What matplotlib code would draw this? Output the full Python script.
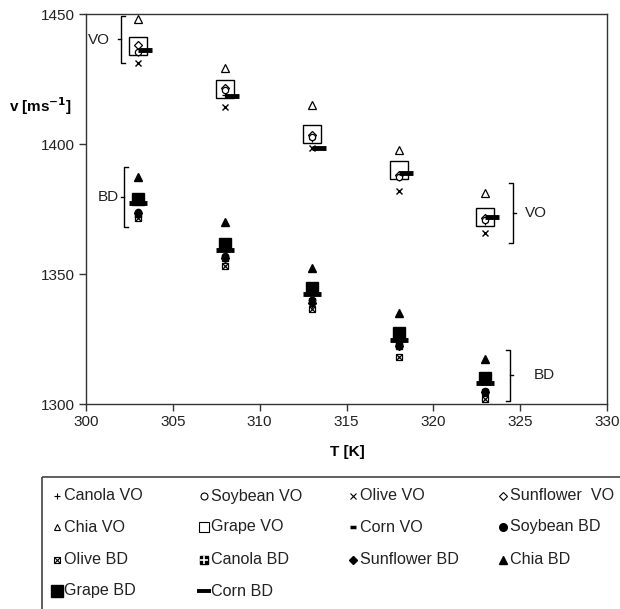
import matplotlib
matplotlib.use("Agg")
import matplotlib.pyplot as plt
from matplotlib.patches import Rectangle

plt.rcParams['font.family'] = ['Liberation Sans', 'DejaVu Sans']

# ------------------------------------------------------------------
# donnees
# ------------------------------------------------------------------
T = [303, 308, 313, 318, 323]
T_corn_vo = [303.4, 308.4, 313.4, 318.4, 323.4]

canola_vo    = [1435.0, 1419.0, 1402.0, 1387.0, 1370.0]
soybean_vo   = [1435.5, 1420.8, 1402.7, 1387.3, 1370.8]
olive_vo     = [1431.0, 1414.2, 1398.5, 1382.0, 1365.8]
sunflower_vo = [1438.0, 1421.5, 1403.5, 1388.0, 1371.5]
chia_vo      = [1448.0, 1429.2, 1415.0, 1397.7, 1381.2]
grape_vo     = [1437.7, 1421.0, 1403.8, 1390.0, 1372.0]
corn_vo      = [1436.0, 1418.5, 1398.6, 1388.8, 1372.0]

soybean_bd   = [1374.0, 1357.0, 1340.0, 1323.0, 1305.0]
olive_bd     = [1371.5, 1353.0, 1336.5, 1318.0, 1301.9]
canola_bd    = [1373.0, 1356.0, 1339.5, 1322.5, 1304.5]
sunflower_bd = [1373.5, 1356.0, 1339.0, 1322.3, 1304.6]
chia_bd      = [1387.3, 1370.0, 1352.3, 1335.0, 1317.3]
grape_bd     = [1379.0, 1361.5, 1344.6, 1327.3, 1309.9]
corn_bd      = [1377.3, 1359.2, 1342.3, 1324.6, 1308.0]

x_ticks = [300, 305, 310, 315, 320, 325, 330]
y_ticks = [1300, 1350, 1400, 1450]

# accolades : (x, y_bas, y_haut, cote, texte, x_texte, y_texte)
brackets = [
    (302.0, 1431.2, 1449.3, "left",  "VO", 300.75, 1440.0),
    (302.2, 1368.1, 1391.2, "left",  "BD", 301.3, 1379.6),
    (324.6, 1361.9, 1385.0, "right", "VO", 325.9, 1373.5),
    (324.4, 1301.2, 1320.8, "right", "BD", 326.4, 1311.0),
]

legend_labels = ["Canola VO", "Soybean VO", "Olive VO", "Sunflower  VO",
                 "Chia VO", "Grape VO", "Corn VO", "Soybean BD",
                 "Olive BD", "Canola BD", "Sunflower BD", "Chia BD",
                 "Grape BD", "Corn BD"]

# ------------------------------------------------------------------
# figure
# ------------------------------------------------------------------
fig = plt.figure(figsize=(6.2, 6.09), dpi=100)
ax = fig.add_axes([86/620, 1 - 404/609, 521/620, 390/609])

k = dict(linestyle="none", color="black")
ax.plot(T, grape_vo, marker="s", ms=12.5, mfc="none", mew=1.0, **k)
ax.plot(T, chia_vo, marker="^", ms=5.5, mfc="white", mew=0.9, **k)
ax.plot(T, olive_vo, marker="x", ms=5, mew=1.0, **k)
ax.plot(T, canola_vo, marker="+", ms=5, mew=0.9, **k)
ax.plot(T, sunflower_vo, marker="D", ms=4, mfc="white", mew=0.9, **k)
ax.plot(T, soybean_vo, marker="o", ms=4.5, mfc="white", mew=0.9, **k)
ax.plot(T_corn_vo, corn_vo, marker="_", ms=10, mew=3.5, **k)

ax.plot(T, chia_bd, marker="^", ms=6, **k)
ax.plot(T, olive_bd, marker="s", ms=4.5, mfc="white", mew=0.9, **k)
ax.plot(T, olive_bd, marker="x", ms=4, mew=0.9, **k)
ax.plot(T, canola_bd, marker="s", ms=4.5, **k)
ax.plot(T, soybean_bd, marker="o", ms=4.5, **k)
ax.plot(T, sunflower_bd, marker="D", ms=4.2, **k)
ax.plot(T, grape_bd, marker="s", ms=8.5, **k)
ax.plot(T, corn_bd, marker="_", ms=13, mew=3.5, **k)

for xb, y0, y1, side, txt, xt, yt in brackets:
    d = 0.22 if side == "left" else -0.22
    ax.plot([xb + d, xb, xb, xb + d], [y0, y0, y1, y1], color="black", lw=1.0)
    ym = (y0 + y1) / 2
    ax.plot([xb, xb - d * 0.8], [ym, ym], color="black", lw=1.0)
    ax.text(xt, yt, txt, ha="center", va="center", fontsize=11, color="#222222")

ax.set_xlim(300, 330)
ax.set_ylim(1300, 1450)
ax.set_xticks(x_ticks)
ax.set_yticks(y_ticks)
ax.tick_params(direction="out", length=5, width=1.0, labelsize=11,
               labelcolor="#222222", color="#333333", pad=3)
for s in ax.spines.values():
    s.set_color("#333333")
    s.set_linewidth(1.0)

fig.text(347/620, 1 - 452/609, "T [K]", ha="center", va="center",
         fontsize=11, fontweight="bold")
fig.text(41/620, 1 - 106/609, "v [ms$^{\\mathbf{-1}}$]", ha="center", va="center",
         fontsize=11, fontweight="bold")

# ------------------------------------------------------------------
# legende dessinee a la main
# ------------------------------------------------------------------
lax = fig.add_axes([0, 0, 1, 1])
lax.set_xlim(0, 620)
lax.set_ylim(609, 0)
lax.axis("off")
lax.add_patch(Rectangle((42, 477), 640, 200, fill=False, ec="#444444", lw=1.2))

col_x = [57, 204, 353, 503]
row_y = [496, 527, 560, 591]
styles = [
    [dict(marker="+", ms=5, mew=0.8)],
    [dict(marker="o", ms=5, mfc="white", mew=0.8)],
    [dict(marker="x", ms=5, mew=0.8)],
    [dict(marker="D", ms=4, mfc="white", mew=0.8)],
    [dict(marker="^", ms=5, mfc="white", mew=0.8)],
    [dict(marker="s", ms=7, mfc="white", mew=0.8)],
    [dict(marker="_", ms=5, mew=2.5)],
    [dict(marker="o", ms=5.5)],
    [dict(marker="s", ms=5, mfc="white", mew=0.8), dict(marker="x", ms=4, mew=0.8)],
    [dict(marker="s", ms=6), dict(marker="+", ms=6, mew=1.2, color="white")],
    [dict(marker="D", ms=4.5)],
    [dict(marker="^", ms=6)],
    [dict(marker="s", ms=8)],
    [dict(marker="_", ms=10, mew=2.8)],
]
for i, lab in enumerate(legend_labels):
    cx = col_x[i % 4]
    cy = row_y[i // 4]
    for st in styles[i]:
        st = dict(st)
        c = st.pop("color", "black")
        lax.plot([cx], [cy], linestyle="none", color=c, **st)
    lax.text(cx + 7, cy, lab, ha="left", va="center", fontsize=11.6, color="#222222")

fig.savefig("out.png", dpi=100)
